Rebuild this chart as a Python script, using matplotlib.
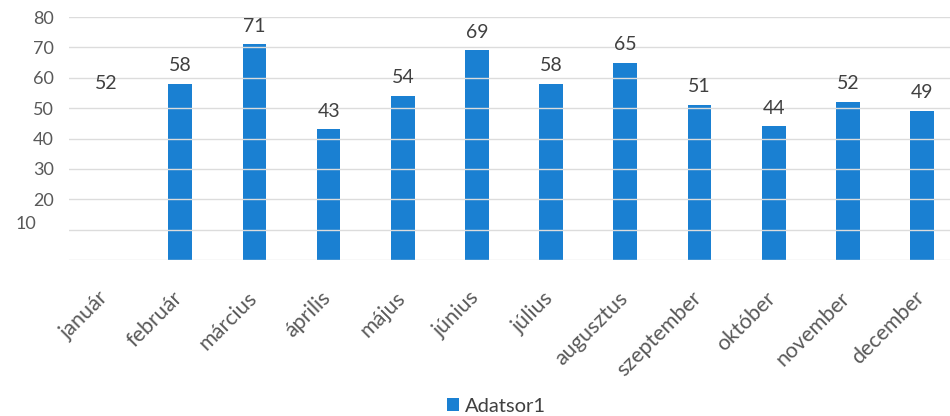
import numpy as np
import matplotlib.pyplot as plt
from matplotlib.transforms import ScaledTranslation

plt.rcParams['font.family'] = ['Lato', 'DejaVu Sans']

# adatok
honapok = ['január', 'február', 'március', 'április', 'május', 'június',
           'július', 'augusztus', 'szeptember', 'október', 'november', 'december']
ertekek = [52, 58, 71, 43, 54, 69, 58, 65, 51, 44, 52, 49]
# a januári oszlop nem látszik az eredeti ábrán
lathato = [False] + [True] * 11

kek = '#1a80d2'

fig = plt.figure(figsize=(9.5, 4.16), dpi=100)
ax = fig.add_axes([0.0726, 0.375, 0.937, 0.584])

x = np.arange(len(honapok))
for xi, v, l in zip(x, ertekek, lathato):
    ax.bar(xi, v, width=0.32, color=kek if l else 'none', zorder=2,
           label='Adatsor1' if xi == 1 else None)
    ax.annotate(str(v), (xi, v), xytext=(0, 7), textcoords='offset points',
                ha='center', va='bottom', fontsize=14, color='#404040')

ax.set_xlim(-0.5, 11.5)
ax.set_ylim(0, 80)
ax.set_yticks(np.arange(0, 90, 10))
ax.set_yticklabels([''] + [str(t) for t in range(10, 90, 10)])
ax.grid(axis='y', color='#dcdcdc', linewidth=1, zorder=3)
ax.set_axisbelow(False)
for s in ax.spines.values():
    s.set_visible(False)
ax.tick_params(length=0)
ax.tick_params(axis='y', labelsize=13, labelcolor='#595959', pad=11)
# a "10" felirat az eredetin kicsit balra-feljebb csúszott
lbl10 = ax.get_yticklabels()[1]
lbl10.set_transform(lbl10.get_transform() + ScaledTranslation(-0.17, 0.07, fig.dpi_scale_trans))

ax.set_xticks(x)
ax.set_xticklabels(honapok, rotation=45, ha='right', rotation_mode='anchor',
                   fontsize=15.5, color='#595959')
ax.tick_params(axis='x', pad=20)
for t in ax.get_xticklabels():
    t.set_transform(t.get_transform() + ScaledTranslation(-0.08, 0, fig.dpi_scale_trans))

fig.legend(loc='lower center', bbox_to_anchor=(0.523, -0.04), frameon=False,
           fontsize=14.5, handlelength=0.6, handleheight=0.6, handletextpad=0.3,
           labelcolor='#404040')

fig.savefig('out.png', dpi=100)
